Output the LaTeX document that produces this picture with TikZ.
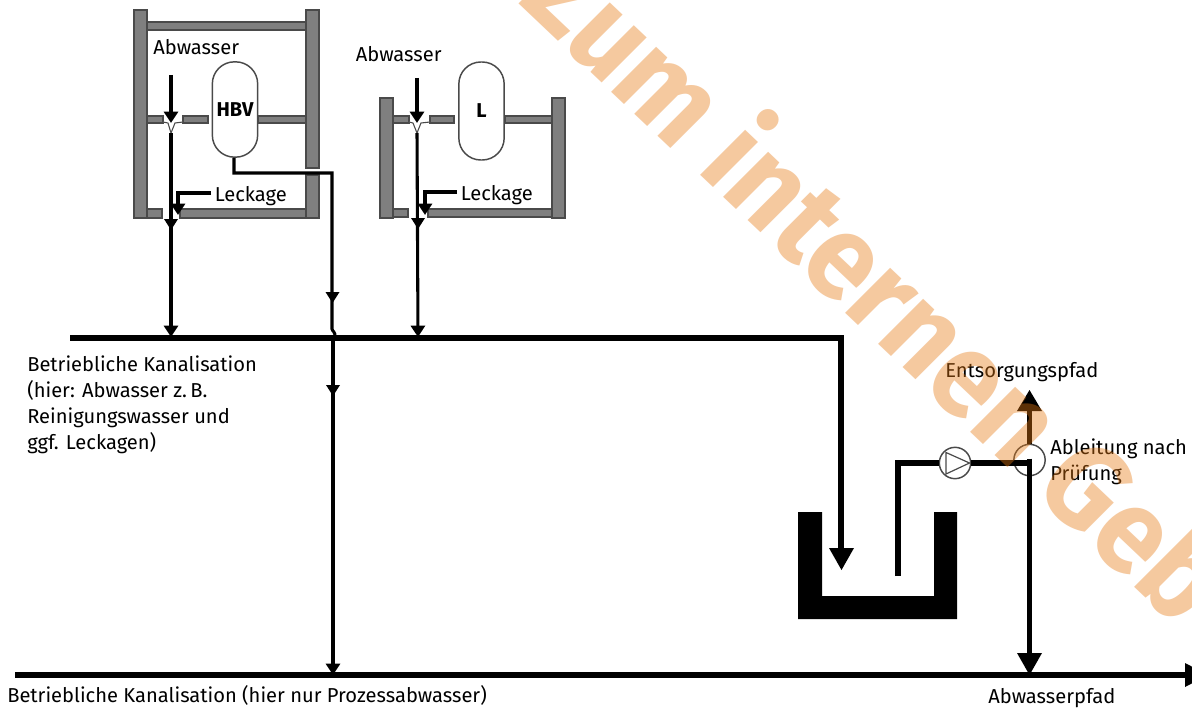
\documentclass[tikz,border=0pt]{standalone}
\usepackage{fontspec}
\setmainfont{Fira Sans}
\usetikzlibrary{arrows.meta,calc}
\definecolor{wallgray}{HTML}{7F7F7F}
\definecolor{wallline}{HTML}{4A4A4A}
\definecolor{wmark}{RGB}{230,120,17}
\tikzset{
  wall/.style={fill=wallgray,draw=wallline,line width=0.8pt},
  tank/.style={draw=wallline,fill=white,line width=1.1pt,rounded corners=16.5pt,minimum width=34pt,inner sep=0pt,font=\bfseries\fontsize{15}{16}\selectfont},
  thinpipe/.style={line width=2.3pt,black},
  midpipe/.style={line width=2.6pt,black},
  thick pipe/.style={line width=4.2pt,black},
  sharr/.style={-{Triangle[length=8.5pt,width=10.5pt]},shorten >=0pt},
  lbl/.style={font=\fontsize{15.1}{19.5}\selectfont,inner sep=0pt,align=left},
  funnel/.style={fill=white,draw=wallline,line width=0.8pt},
  inst/.style={circle,draw=wallline,fill=white,line width=1.1pt,inner sep=0pt,minimum size=23.5pt},
}
\newcommand{\headdown}[2]{\fill[black] (#1-7,#2-11) -- (#1+7,#2-11) -- (#1,#2) -- cycle;}
\begin{document}
\begin{tikzpicture}[x=0.75pt,y=-0.75pt]
\useasboundingbox (0,0) rectangle (1192,713);
\clip (0,0) rectangle (1192,713);
\fill[white] (0,0) rectangle (1192,713);

% left building
\draw[wall] (147,22) rectangle (306,30);
\draw[wall] (147,116) rectangle (163,123);
\draw[wall] (183,116) rectangle (208,123);
\draw[wall] (258,116) rectangle (306,123);
\draw[wall] (147,209) rectangle (162,218);
\draw[wall] (180,209) rectangle (306,218);
\draw[wall] (134,10) rectangle (147,218);
\draw[wall] (306,10) rectangle (319,168);
\draw[wall] (306,175) rectangle (319,218);
\node[tank,minimum height=71.5pt] (hbv) at (235,109.5) {HBV};
\draw[funnel] (163,122) -- (168,123) -- (171,133) -- (175,123) -- (183,122);

% right building
\draw[wall] (393,116) rectangle (409,123);
\draw[wall] (430,116) rectangle (454,123);
\draw[wall] (505,116) rectangle (552,123);
\draw[wall] (393,209) rectangle (408,217);
\draw[wall] (428,209) rectangle (552,217);
\draw[wall] (380,98) rectangle (393,218);
\draw[wall] (552,98) rectangle (565,218);
\node[tank,minimum height=73.5pt] (l) at (481.5,111) {L};
\draw[funnel] (409,122) -- (413,123) -- (417,133) -- (421,123) -- (430,122);

% main lines
\coordinate (k1w) at (70,338);
\coordinate (k1c) at (841,338);
\coordinate (k1e) at (841,570);
\coordinate (k2w) at (15,675);
\coordinate (k2e) at (1208,675);
\draw[thick pipe,line join=miter] (k1w) -- (k1c) -- (841,550);
\draw[thick pipe] (k2w) -- (1190,675);
\fill (1185,663) -- (1208,675) -- (1185,687) -- cycle;
\fill (829,548) -- (854,548) -- (841.5,570) -- cycle;

% left feeds
\coordinate (a1) at (171,75);
\coordinate (f1) at (171,133);
\coordinate (j1) at (171,337);
\coordinate (lk1) at (178,215);
\draw[midpipe,sharr] (a1) -- (171,123);
\draw[thinpipe,sharr] (f1) -- (j1);
\headdown{171}{230}
\draw[midpipe,sharr] (211,193) -- (178,193) -- (lk1);

% HBV pipe
\coordinate (h1) at (234,173);
\coordinate (h2) at (332,173);
\coordinate (h3) at (332,329);
\coordinate (h4) at (333,675);
\draw[thinpipe,line join=miter] (hbv.south -| h1) -- (h1) -- (h2) -- (h3) .. controls (332,331) and (336,332) .. (335,338);
\draw[thinpipe,sharr] (333,338) -- (h4);
\headdown{332.5}{303}
\headdown{333}{396}

% right feeds
\coordinate (a2) at (417,78);
\coordinate (f2) at (417,133);
\coordinate (j2) at (418,337);
\coordinate (lk2) at (425,215);
\draw[midpipe,sharr] (a2) -- (417,123);
\draw[thinpipe,sharr] (f2) -- (j2);
\headdown{418}{229}
\draw[midpipe,sharr] (457,192) -- (425,192) -- (lk2);

% basin
\fill[black] (798,512) -- (822,512) -- (822,596) -- (934,596) -- (934,512) -- (957,512) -- (957,619) -- (798,619) -- cycle;

% pump and valve
\node[inst] (pump) at (955,463) {};
\node[inst] (valve) at (1029.5,460) {};
\coordinate (p0) at (898,576);
\coordinate (p1) at (898,463);
\draw[thick pipe,line join=miter] (p0) -- (p1) -- (pump.west);
\draw[thick pipe] (pump.east) -- (1031,463);
\draw[draw=wallline,line width=0.9pt] (946,452.5) -- (946,474) -- (969.5,463) -- cycle;
\draw[thick pipe,line cap=butt] (1029.5,458.5) -- (1029.5,655);
\fill (1017,653) -- (1042,653) -- (1029.5,675) -- cycle;
\draw[thick pipe] (valve.north) -- (1029.5,410);
\fill (1017,411) -- (1042,411) -- (1029.5,390) -- cycle;

% labels
\node[lbl,anchor=base west] (t1) at (153,55) {Abwasser};
\node[lbl,anchor=base west] (t2) at (355.5,62) {Abwasser};
\node[lbl,anchor=base west,fill=white] (t3) at (214.5,201) {Leckage};
\node[lbl,anchor=base west,fill=white] (t4) at (460.5,200) {Leckage};
\node[lbl,anchor=north west] (t5) at (27,356) {Betriebliche Kanalisation\\(hier: Abwasser z.\,B.\\Reinigungswasser und\\ggf. Leckagen)};
\node[lbl,anchor=base west] (t6) at (7,702) {Betriebliche Kanalisation (hier nur Prozessabwasser)};
\node[lbl,anchor=base west] (t7) at (988,703) {Abwasserpfad};
\node[lbl,anchor=base west] (t8) at (945,377) {Entsorgungspfad};
\node[lbl,anchor=north west] (t9) at (1050,439) {Ableitung nach\\Prüfung};

% watermark
\node[cm={0.68,-0.645,0.707,0.707,(0,0)},transform shape,anchor=base west,inner sep=0pt,text=wmark,opacity=0.4,font=\bfseries\fontsize{90}{90}\selectfont] (wm) at (517,2) {Zum internen Geb};
\end{tikzpicture}
\end{document}
